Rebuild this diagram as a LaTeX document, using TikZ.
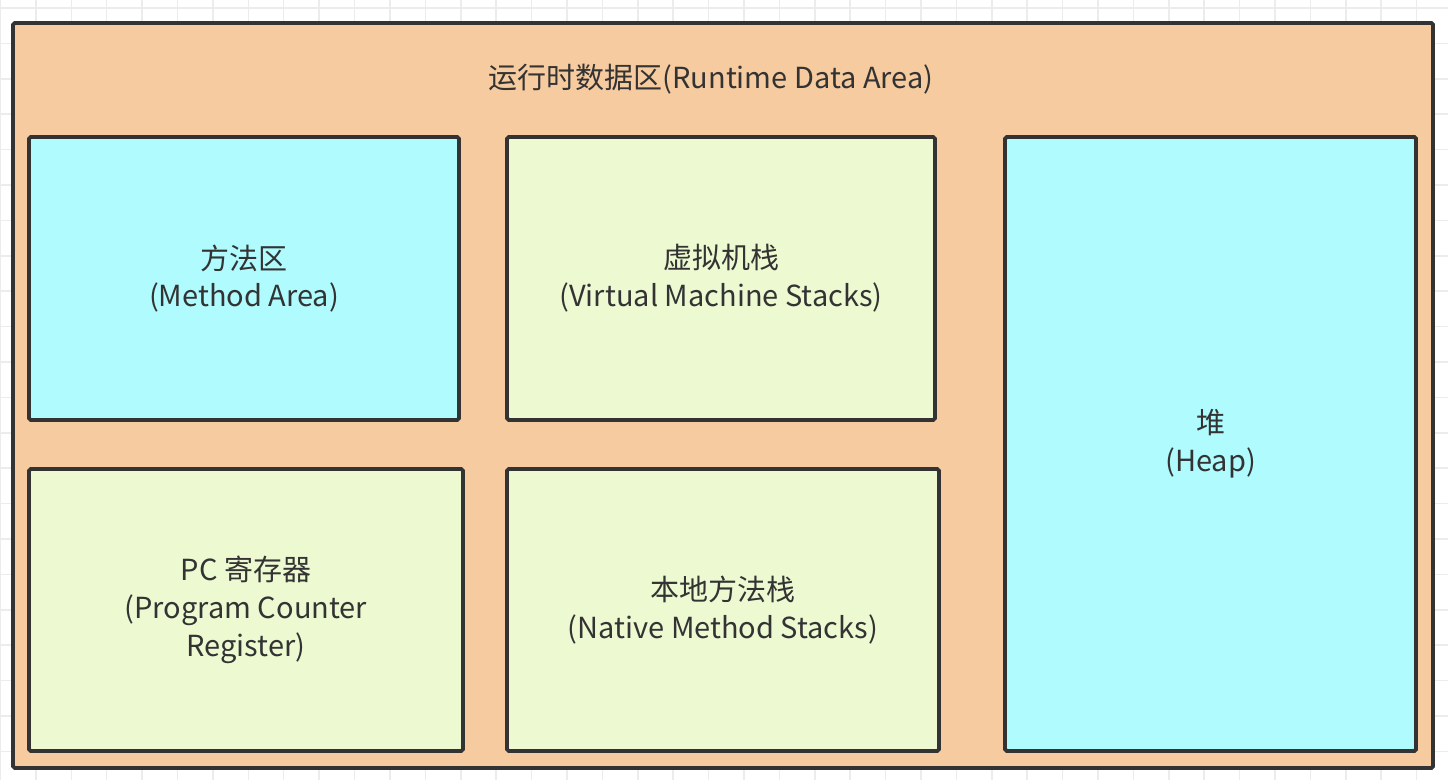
\documentclass[tikz,border=0pt]{standalone}
\usepackage{fontspec}
\setmainfont{Noto Sans CJK SC}
\usetikzlibrary{positioning}

\definecolor{areaorange}{HTML}{F6CB9F}
\definecolor{areacyan}{HTML}{AFFBFE}
\definecolor{areagreen}{HTML}{ECF9D1}
\definecolor{arealine}{HTML}{333333}
\definecolor{gridgray}{HTML}{ECECEC}

\tikzset{
  areabox/.style={rectangle, draw=arealine, line width=2.2pt, rounded corners=1pt,
    inner sep=0pt, align=center, text=arealine, font=\fontsize{16.5}{21.5}\selectfont},
  shared/.style={areabox, fill=areacyan},
  private/.style={areabox, fill=areagreen}
}

\begin{document}
\begin{tikzpicture}
\useasboundingbox (0,0) rectangle (28.96,-15.6);
% background grid
\foreach \x in {0.01,0.718,...,28.96} \draw[gridgray, line width=0.9pt] (\x,0) -- (\x,-15.6);
\foreach \y in {-0.16,-0.868,...,-15.6} \draw[gridgray, line width=0.9pt] (0,\y) -- (28.96,\y);

% runtime data area
\node[areabox, fill=areaorange, minimum width=28.4cm, minimum height=14.9cm] (rda) at (14.46,-7.91) {};
\node[text=arealine, font=\fontsize{16.5}{21.5}\selectfont] (title) at (14.22,-1.58) {运行时数据区(Runtime Data Area)};

\node[shared, minimum width=8.6cm, minimum height=5.66cm] (method) at (4.88,-5.57) {方法区\\(Method Area)};
\node[private, minimum width=8.56cm, minimum height=5.66cm] (vmstack) at (14.42,-5.57) {虚拟机栈\\(Virtual Machine Stacks)};
\node[shared, minimum width=8.22cm, minimum height=12.28cm] (heap) at (24.21,-8.88) {堆\\(Heap)};
\node[private, minimum width=8.68cm, minimum height=5.64cm] (pc) at (4.92,-12.2) {PC 寄存器\\(Program Counter\\Register)};
\node[private, minimum width=8.64cm, minimum height=5.64cm] (native) at (14.46,-12.2) {本地方法栈\\(Native Method Stacks)};

\end{tikzpicture}
\end{document}
